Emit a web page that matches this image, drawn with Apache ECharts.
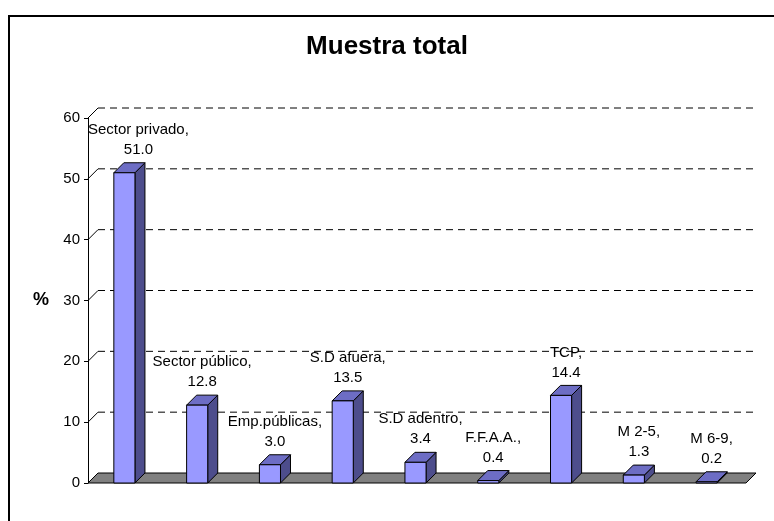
<!DOCTYPE html>
<html>
<head>
<meta charset="utf-8">
<script src="https://cdn.jsdelivr.net/npm/echarts@6/dist/echarts.min.js"></script>
<style>
  html, body { margin: 0; padding: 0; background: #fff; }
  #chart { width: 774px; height: 521px; }
</style>
</head>
<body>
<div id="chart"></div>
<script>
// datos del gráfico
const categorias = ['Sector privado', 'Sector público', 'Emp.públicas', 'S.D afuera', 'S.D adentro', 'F.F.A.A.', 'TCP', 'M 2-5', 'M 6-9'];
const valores = [51.0, 12.8, 3.0, 13.5, 3.4, 0.4, 14.4, 1.3, 0.2];
const ticksY = [0, 10, 20, 30, 40, 50, 60];

const FONT = '"Liberation Sans", Arial, sans-serif';
const LABEL_FONT = '15px ' + FONT;
const DEPTH = 10;

const chart = echarts.init(document.getElementById('chart'));

// para medir el ancho de las etiquetas
const ctx = document.createElement('canvas').getContext('2d');
ctx.font = LABEL_FONT;

// líneas de fondo (3D) con su diagonal
function renderGrid(params, api) {
  const cs = params.coordSys;
  const p = api.coord([0, api.value(0)]);
  const y = p[1];
  const x0 = cs.x;
  const children = [
    {
      type: 'line',
      shape: { x1: x0, y1: y, x2: x0 + DEPTH, y2: y - DEPTH },
      style: { stroke: '#000', lineWidth: 1 }
    }
  ];
  if (api.value(0) > 0) {
    children.push({
      type: 'line',
      shape: { x1: x0 + DEPTH, y1: y - DEPTH, x2: cs.x + cs.width + DEPTH, y2: y - DEPTH },
      style: { stroke: '#000', lineWidth: 1, lineDash: [7, 5] }
    });
  }
  return { type: 'group', children };
}

// piso gris
function renderFloor(params, api) {
  const cs = params.coordSys;
  const base = api.coord([0, 0])[1];
  const l = cs.x, r = cs.x + cs.width;
  return {
    type: 'polygon',
    shape: { points: [[l, base], [l + DEPTH, base - DEPTH], [r + DEPTH + 3, base - DEPTH], [r + 3, base]] },
    style: { fill: '#808080', stroke: '#000', lineWidth: 1 }
  };
}

// barras 3D
function renderBar(params, api) {
  const cs = params.coordSys;
  const idx = api.value(0);
  const val = api.value(1);
  const top = api.coord([idx, val]);
  const base = api.coord([idx, 0]);
  const w = api.size([1, 0])[0] * 0.29;
  const x = top[0] - w / 2;
  const yt = top[1];
  const yb = base[1];
  const d = DEPTH;

  // la etiqueta no sale del área del gráfico
  const line1 = categorias[idx] + ',';
  const tw = ctx.measureText(line1).width;
  let lx = top[0] + d / 2;
  if (lx - tw / 2 < cs.x) lx = cs.x + tw / 2;

  return {
    type: 'group',
    children: [
      {
        type: 'polygon',
        shape: { points: [[x + w, yt], [x + w + d, yt - d], [x + w + d, yb - d], [x + w, yb]] },
        style: { fill: '#4d4d8c', stroke: '#000', lineWidth: 1 }
      },
      {
        type: 'polygon',
        shape: { points: [[x, yt], [x + d, yt - d], [x + w + d, yt - d], [x + w, yt]] },
        style: { fill: '#6d6dc4', stroke: '#000', lineWidth: 1 }
      },
      {
        type: 'rect',
        shape: { x: x, y: yt, width: w, height: yb - yt },
        style: { fill: '#9999ff', stroke: '#000', lineWidth: 1 }
      },
      {
        type: 'text',
        x: lx,
        y: yt - d - 3,
        style: {
          text: line1 + '\n' + val.toFixed(1),
          align: 'center',
          verticalAlign: 'bottom',
          font: LABEL_FONT,
          lineHeight: 20,
          fill: '#000'
        }
      }
    ]
  };
}

const option = {
  backgroundColor: '#fff',
  animation: false,
  title: {
    text: 'Muestra total',
    left: 'center',
    top: 29,
    textStyle: { fontFamily: FONT, fontWeight: 'bold', fontSize: 26, color: '#000' }
  },
  graphic: [
    {
      type: 'rect',
      shape: { x: 9, y: 16, width: 800, height: 600 },
      style: { fill: 'none', stroke: '#000', lineWidth: 2 },
      z: 100
    }
  ],
  grid: { left: 88, right: 31, top: 118, bottom: 38 },
  xAxis: {
    type: 'category',
    data: categorias,
    axisLine: { show: false },
    axisTick: { show: false },
    axisLabel: { show: false },
    splitLine: { show: false }
  },
  yAxis: {
    type: 'value',
    min: 0,
    max: 60,
    interval: 10,
    name: '%',
    nameLocation: 'middle',
    nameRotate: 0,
    nameGap: 39,
    nameTextStyle: { fontFamily: FONT, fontWeight: 'bold', fontSize: 18, color: '#000' },
    axisLine: { show: true, lineStyle: { color: '#000', width: 1 } },
    axisTick: { show: true, length: 4, lineStyle: { color: '#000' } },
    axisLabel: { fontFamily: FONT, fontSize: 15, color: '#000', margin: 8 },
    splitLine: { show: false }
  },
  series: [
    {
      type: 'custom',
      renderItem: renderGrid,
      data: ticksY.map(v => [v]),
      encode: { y: 0 },
      z: 1,
      silent: true
    },
    {
      type: 'custom',
      renderItem: renderFloor,
      data: [[0, 0]],
      z: 2,
      silent: true
    },
    {
      type: 'custom',
      renderItem: renderBar,
      data: valores.map((v, i) => [i, v]),
      encode: { x: 0, y: 1 },
      z: 3
    }
  ]
};

chart.setOption(option);
</script>
</body>
</html>
